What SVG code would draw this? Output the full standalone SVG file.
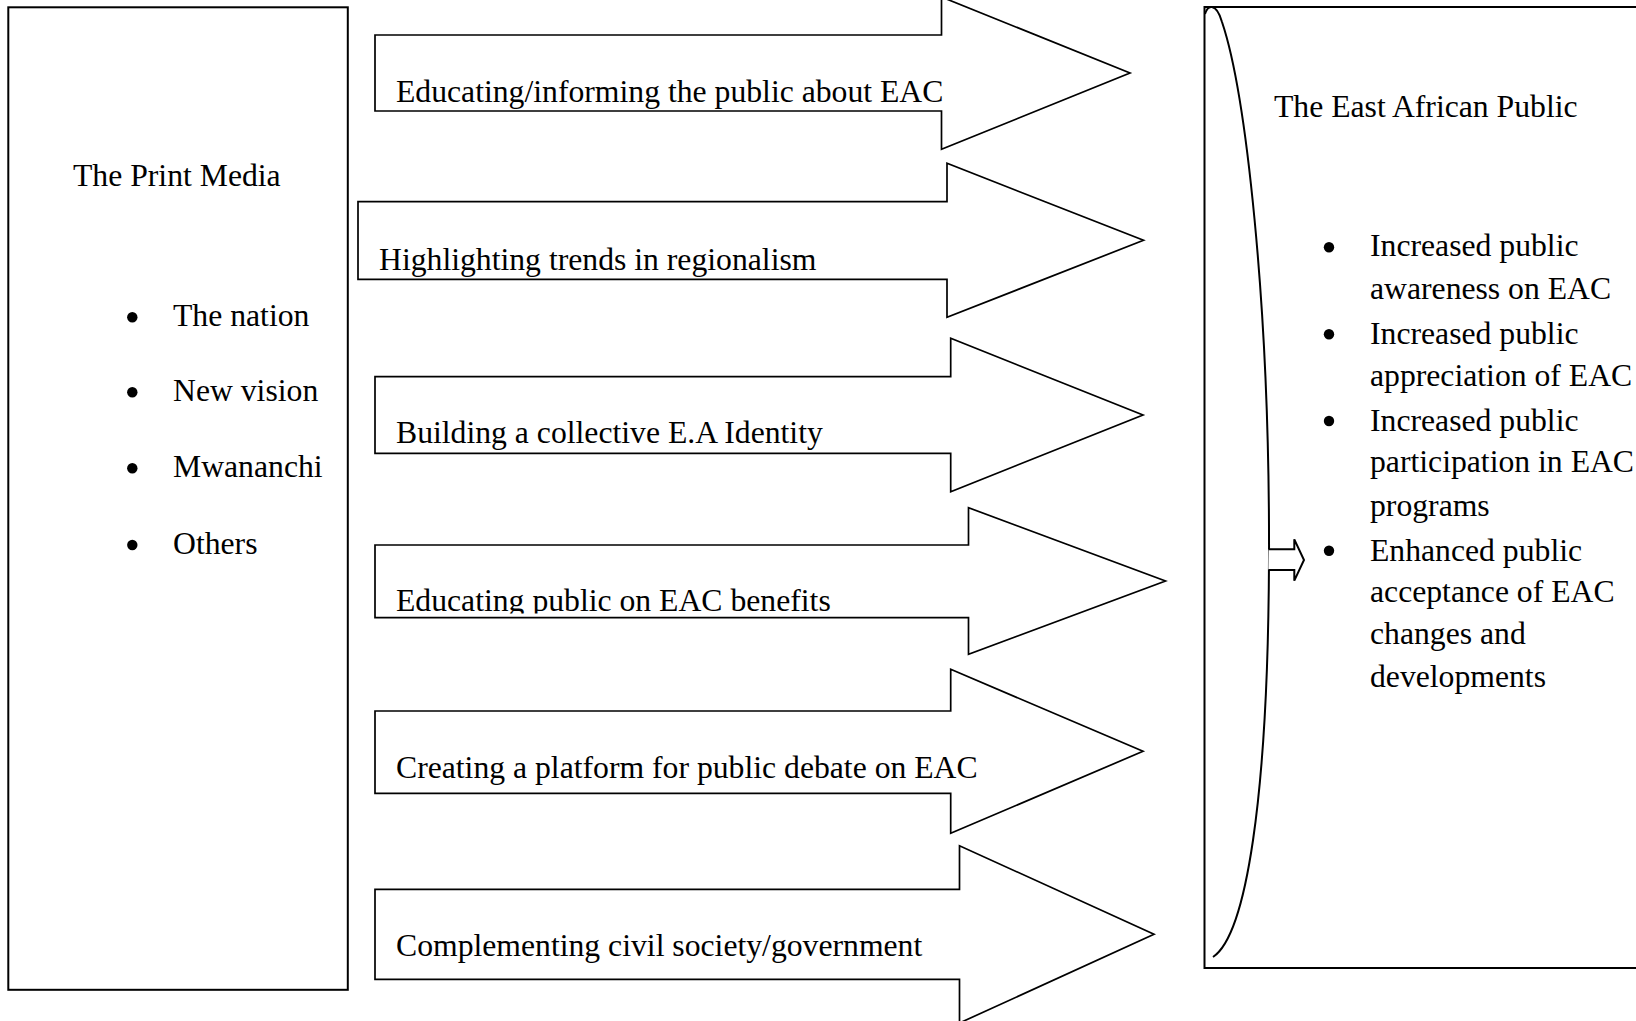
<svg xmlns="http://www.w3.org/2000/svg" width="1636" height="1021" viewBox="0 0 1636 1021">
<style>
.box{fill:#fff;stroke:#000;stroke-width:2}
.arr{fill:#fff;stroke:#000;stroke-width:1.7;stroke-linejoin:miter}
.t{font-family:"Liberation Serif","Times New Roman",serif;font-size:31.7px;fill:#000}
.dot{fill:#000}
.curve{fill:none;stroke:#000;stroke-width:2}
</style>
<defs>
<clipPath id="clip4"><rect x="370" y="540" width="620" height="73.5"/></clipPath>
</defs>
<rect width="1636" height="1021" fill="#fff"/>

<g id="print-media">
<rect class="box" x="8.3" y="7.3" width="339.5" height="982.5"/>
<text class="t" x="73" y="185.5">The Print Media</text>
<circle class="dot" cx="132.3" cy="317.3" r="5.2"/>
<text class="t" x="173" y="326">The nation</text>
<circle class="dot" cx="132.3" cy="392.3" r="5.2"/>
<text class="t" x="173" y="401">New vision</text>
<circle class="dot" cx="132.3" cy="468.3" r="5.2"/>
<text class="t" x="173" y="477">Mwananchi</text>
<circle class="dot" cx="132.3" cy="545" r="5.2"/>
<text class="t" x="173" y="554.3">Others</text>
</g>

<g id="east-african-public">
<rect class="box" x="1204.5" y="7" width="500" height="961"/>
<path class="curve" d="M1205,14 Q1207.5,6 1212,7 Q1218,8 1222,22 C1245,90 1270,300 1269,560 C1268,800 1246,935 1213,957"/>
<text class="t" x="1274" y="116.5">The East African Public</text>
<circle class="dot" cx="1329" cy="247.3" r="5.2"/>
<text class="t" x="1370" y="256">Increased public</text>
<text class="t" x="1370" y="299">awareness on EAC</text>
<circle class="dot" cx="1329" cy="334.3" r="5.2"/>
<text class="t" x="1370" y="344">Increased public</text>
<text class="t" x="1370" y="385.7">appreciation of EAC</text>
<circle class="dot" cx="1329" cy="421" r="5.2"/>
<text class="t" x="1370" y="430.7">Increased public</text>
<text class="t" x="1370" y="472.4">participation in EAC</text>
<text class="t" x="1370" y="515.7">programs</text>
<circle class="dot" cx="1329" cy="550.7" r="5.2"/>
<text class="t" x="1370" y="560.7">Enhanced public</text>
<text class="t" x="1370" y="601.7">acceptance of EAC</text>
<text class="t" x="1370" y="644">changes and</text>
<text class="t" x="1370" y="687.4">developments</text>
</g>

<g id="connectors">
<g id="arrow-educating-informing">
<polygon class="arr" points="375,35 941.5,35 941.5,-3 1130,73 941.5,149.3 941.5,111 375,111"/>
<text class="t" x="396" y="101.8">Educating/informing the public about EAC</text>
</g>
<g id="arrow-highlighting">
<polygon class="arr" points="358,201.7 947,201.7 947,163.3 1143.5,240.3 947,317.3 947,279.3 358,279.3"/>
<text class="t" x="379" y="269.5">Highlighting trends in regionalism</text>
</g>
<g id="arrow-building">
<polygon class="arr" points="375,376.7 950.7,376.7 950.7,338.3 1143,415 950.7,491.7 950.7,453.3 375,453.3"/>
<text class="t" x="396" y="442.8">Building a collective E.A Identity</text>
</g>
<g id="arrow-benefits">
<polygon class="arr" points="375,545 968.5,545 968.5,507.7 1165.5,581 968.5,654.3 968.5,617.7 375,617.7"/>
<text class="t" x="396" y="611" clip-path="url(#clip4)">Educating public on EAC benefits</text>
</g>
<g id="arrow-platform">
<polygon class="arr" points="375,711 950.7,711 950.7,669.3 1143,751.3 950.7,833.3 950.7,793.3 375,793.3"/>
<text class="t" x="396" y="777.8">Creating a platform for public debate on EAC</text>
</g>
<g id="arrow-complementing">
<polygon class="arr" points="375,889.3 959.5,889.3 959.5,845.7 1154,934.3 959.5,1023 959.5,979.3 375,979.3"/>
<text class="t" x="396" y="956">Complementing civil society/government</text>
</g>
<g id="arrow-small">
<polyline class="arr" points="1268.5,549.3 1294.3,549.3 1294.3,539.3 1304,560 1294.3,580.7 1294.3,570 1268.3,570" style="stroke-width:2"/>
</g>
</g>
</svg>
